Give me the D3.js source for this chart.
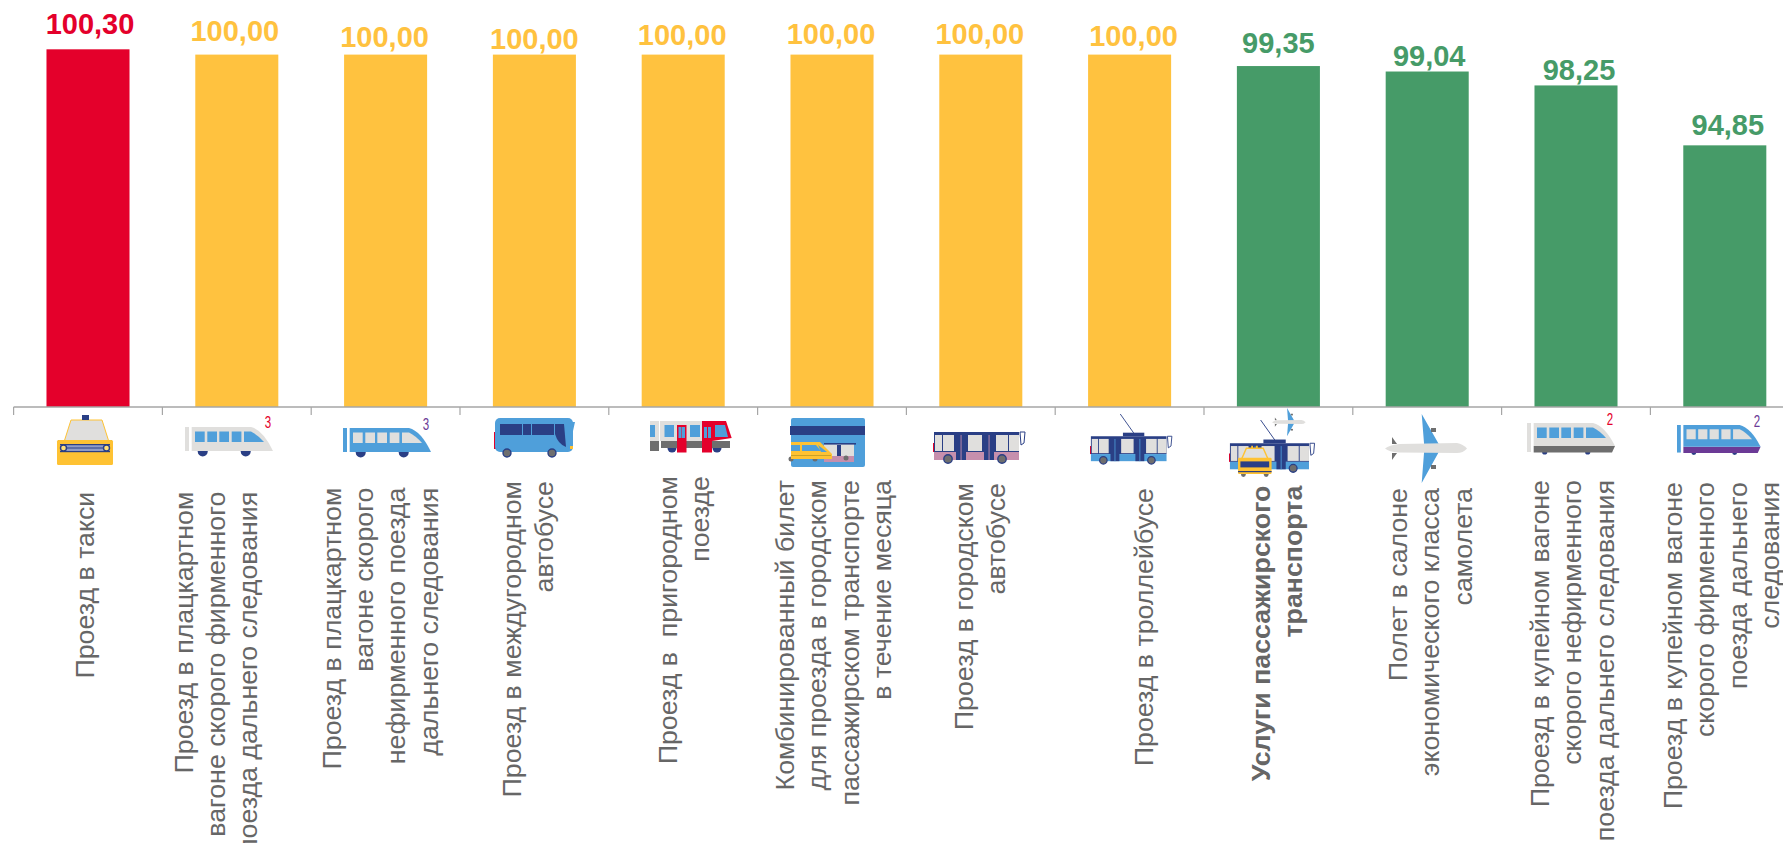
<!DOCTYPE html>
<html><head><meta charset="utf-8">
<script src="https://cdn.jsdelivr.net/npm/d3@7"></script>
<style>html,body{margin:0;padding:0;background:#fff;overflow:hidden}svg{display:block}text{font-family:"Liberation Sans",Arial,sans-serif;white-space:pre}</style>
</head><body><svg id="c" width="1783" height="843"></svg>
<script>
const categories=["Проезд в такси","Проезд в плацкартном вагоне скорого фирменного поезда дальнего следования","Проезд в плацкартном вагоне скорого нефирменного поезда дальнего следования","Проезд в междугородном автобусе","Проезд в пригородном поезде","Комбинированный билет для проезда в городском пассажирском транспорте в течение месяца","Проезд в городском автобусе","Проезд в троллейбусе","Услуги пассажирского транспорта","Полет в салоне экономического класса самолета","Проезд в купейном вагоне скорого нефирменного поезда дальнего следования","Проезд в купейном вагоне скорого фирменного поезда дальнего следования"];
const values=[100.30,100,100,100,100,100,100,100,99.35,99.04,98.25,94.85];
const valueLabels=["100,30","100,00","100,00","100,00","100,00","100,00","100,00","100,00","99,35","99,04","98,25","94,85"];
const labelLines=[["Проезд в такси"],["Проезд в плацкартном","вагоне скорого фирменного","поезда дальнего следования"],["Проезд в плацкартном","вагоне скорого","нефирменного поезда","дальнего следования"],["Проезд в междугородном","автобусе"],["Проезд в  пригородном","поезде"],["Комбинированный билет","для проезда в городском","пассажирском транспорте","в течение месяца"],["Проезд в городском","автобусе"],["Проезд в троллейбусе"],["Услуги пассажирского","транспорта"],["Полет в салоне","экономического класса","самолета"],["Проезд в купейном вагоне","скорого нефирменного","поезда дальнего следования"],["Проезд в купейном вагоне","скорого фирменного","поезда дальнего","следования"]];
const barColors=["#e4002b","#ffc23f","#ffc23f","#ffc23f","#ffc23f","#ffc23f","#ffc23f","#ffc23f","#469b68","#469b68","#469b68","#469b68"];
// layout tables, kept apart from the data
const valueDx=[2,-2,-1,0,-1,-1,-1,4,0,2,3,3];
const valueBase=[33.5,40.5,47,49,44.5,43.5,43.5,45.5,53,66,79.5,134.5];
const lineX0=[94,192.7,340.6,521,677,794,973,1153,1270,1407,1549,1682];
const lineTop=[491.7,491.7,487.7,481,476,480,483,488,485.7,488,480,482];
const lineStep=32.3;

const W=1783,H=843;
const x=d3.scaleBand().domain(d3.range(categories.length)).range([13.6,13.6+148.8*12]).paddingInner(0.442).paddingOuter(0.221);
const y=d3.scaleLinear().domain([80,100]).range([407,54.6]);
const svg=d3.select("#c");
svg.selectAll("rect.bar").data(values).join("rect").attr("class","bar")
  .attr("x",(d,i)=>x(i)).attr("width",x.bandwidth()).attr("y",d=>y(d)).attr("height",d=>y(80)-y(d)).attr("fill",(d,i)=>barColors[i]);
const axisG=svg.append("g").attr("transform",`translate(0,${y(80)})`);
axisG.append("line").attr("x1",13.6).attr("x2",W).attr("stroke","#a6a6a6").attr("stroke-width",1.4);
const tickX=i=>x(i)-x.step()*x.paddingOuter();
axisG.selectAll("line.t").data(d3.range(categories.length)).join("line").attr("class","t")
  .attr("x1",tickX).attr("x2",tickX).attr("y1",0).attr("y2",8).attr("stroke","#a6a6a6").attr("stroke-width",1.2);

svg.selectAll("text.v").data(valueLabels).join("text").attr("class","v")
  .attr("x",(d,i)=>x(i)+x.bandwidth()/2+valueDx[i]).attr("y",(d,i)=>valueBase[i])
  .attr("text-anchor","middle").attr("font-size",29).attr("font-weight","bold").attr("fill",(d,i)=>barColors[i]).text(d=>d);

labelLines.forEach((lines,i)=>{
  lines.forEach((t,j)=>{
    svg.append("text").attr("transform",`translate(${lineX0[i]+j*lineStep},${lineTop[i]}) rotate(-90) scale(1.05,1)`)
      .attr("text-anchor","end").attr("font-size",25.5).attr("fill","#666666").attr("font-weight",i===8?"bold":"normal").text(t);
  });
});

// Pictograms
const B="#4f9fda",N="#2a3f85",G="#e0dfdd",Y="#fec233",R="#e4002b",D="#6e6e6e",M="#c68fad",P="#6b3a96";
function icon(px,py,s=1){const g=svg.append("g").attr("transform",`translate(${px},${py}) scale(${s})`);
  const o={r(a,b,w,h,f,rx=0){g.append("rect").attr("x",a).attr("y",b).attr("width",w).attr("height",h).attr("fill",f).attr("rx",rx);return o},
  p(d,f,st,sw=1){g.append("path").attr("d",d).attr("fill",f).attr("stroke",st||"none").attr("stroke-width",sw);return o},
  c(a,b,r,f,st){g.append("circle").attr("cx",a).attr("cy",b).attr("r",r).attr("fill",f).attr("stroke",st||"none").attr("stroke-width",1.4);return o},
  l(a,b,c,e,st){g.append("line").attr("x1",a).attr("y1",b).attr("x2",c).attr("y2",e).attr("stroke",st).attr("stroke-width",1);return o}};return o}
function taxi(o){o.r(1,25,2.5,8,N).r(52.5,25,2.5,8,N);
 o.p("M7,27 L14,5 L45,5 L52,27Z",G,Y);
 o.r(25,0,7,5,N).r(0,25,56,25,Y,1.5);
 o.r(3,29,50,8,"#8f9cc6",4);o.r(3,29,50,1.2,N).r(3,36,50,1.2,N).r(7,32.5,42,1,N);
 o.c(6.5,33,3,"#ffe07a",N).c(49.5,33,3,"#ffe07a",N);
}
function taxiBack(o){o.c(9,46,4,D).c(47,46,4,D);
 o.p("M6,20 L14,2 L42,2 L50,20Z",G,Y,2.4);
 o.r(22,-2,3,4,Y).r(30,-2,3,4,Y);
 o.r(0,18,56,27,Y,2).r(4,24,48,10,N).r(0,40,56,2,N);
}
function train(o,body,win,rear,base){
 const h=base?23:24;
 o.r(0,0,4,base?29:24,rear);
 if(base){o.c(17.7,29,2.6,N).c(60.7,29,2.6,N);o.p("M6.7,23 L88,23 L85,29.5 L6.7,29.5Z",base);}
 else{o.c(17.7,24.5,5,N).c(60.7,24.5,5,N);}
 o.p(`M6.7,0 L66,0 Q78,3 88,${h} L6.7,${h}Z`,body);
 [10,22.3,34.3,46.7].forEach(a=>o.r(a,4.5,9.7,10.5,win));
 o.p("M59,4.5 L66,4.5 Q73,8 79,15 L59,15Z",win);
}
function bus(o){o.r(0,14,2,17,R);o.r(1,0,78,34,B,5);
 o.r(6,6,22,11,N).r(29,6,8,11,N).r(38,6,22,11,N);
 o.p("M61,6 L70,6 L72,29 Q64,26 61,16Z",N);o.p("M72,4 L81,4 L79,13 L78,6Z",B);o.r(76,28,3,3,Y);
 o.c(13,35,4,D,N).c(58,35,4,D,N);}
function suburban(o){o.r(0,0,9,20,G).r(0,20,9,10,D).r(0,4,5,12,B);
 o.c(22,27,4.5,N).c(67,27,4.5,N);
 o.r(10,0,42,20,G).r(11,20,41,7,D);
 o.r(14.5,4,9.5,12,B).r(40,4,10,12,B);
 o.r(27,4,9.5,27.5,R).r(28.5,6,3,11,B).r(32,6,3,11,B);
 o.p("M52,0 L76,0 L81.7,17 L62,20 L62,31.5 L52,31.5Z",R);
 o.r(62,20,18,7,D).r(54,6,3,11,B).r(58,6,3,11,B);o.p("M65,4 L75,4 L78,16 L65,16Z",B);}
function card(o){o.r(0,0,74,49,B,2).r(-1,8,75,9,N);
 o.r(33,26,30,16,G).r(33,25,32,1.6,N).r(46,27,4,15,N);o.r(33,38,30,6,M);o.c(55,40,2.5,D);
 o.c(24,41,2.5,D).c(0,41,2.5,D);
 o.p("M0,24 L29,24 L41,36 L41,41 L0,41Z",Y);o.p("M0,27 L9,27 L9,33 L0,33Z",B);o.p("M11,27 L25,27 L30,33 L11,33Z",B);o.p("M27,27 L36,34 L30,34Z",B);o.r(0,37,40,1,"#c9a227");}
function citybus(o,low,pole){
 const t=pole?24:0;
 if(pole){o.l(34,0,51,t,N);o.r(37,t-3,24,4,N);}
 o.r(0,t+12,1.5,9,R);
 o.r(1,t+1,85,20,N);o.r(1,t+21,85,8,low);
 [[2,7],[10,11],[35,14],[63,12],[76,10]].forEach(a=>o.r(a[0],t+4,a[1],16,G));
 [23,51].forEach(a=>o.r(a,t+4,10,25,N).r(a+4.6,t+4,.9,25,low));
 o.p(`M87,${t+1} L92,${t+1} L91,${t+12} L88,${t+14}Z`,"#fff",N);
 o.c(15,t+28,4.2,D,N).c(69,t+28,4.2,D,N);}
function plane(o,bodyc,wingc){
 o.p("M36.7,0 L56,34 L36.7,69 L39,39 L39,29Z",wingc);
 o.p("M7,23 L12,30 L7,30Z",D);o.p("M7,46 L12,39 L7,39Z",D);
 o.r(46,14,5,4,D).r(46,51,5,4,D);
 o.p("M0,34.5 Q4,31 14,30 L72,29 Q78,30 82,34.5 Q78,39 72,39 L14,38.5 Q4,38 0,34.5Z",bodyc);
}
function sup(px,py,t,f){svg.append("text").attr("transform",`translate(${px},${py}) scale(0.72,1)`).attr("text-anchor","middle").attr("font-size",16).attr("fill",f).text(t);}

taxi(icon(57,415));
train(icon(185,427),G,B,G);sup(268,428,"3",R);
train(icon(343,428),B,G,B);sup(426,430,"3",P);
bus(icon(494,418));
suburban(icon(650,421));
card(icon(791,418));
citybus(icon(933,431),M,false);
citybus(icon(1090,414,0.89),B,true);
// combined pictogram
plane(icon(1272,408,0.41),G,B);
citybus(icon(1229,420,0.93),B,true);
taxiBack(icon(1238,447,0.6));
plane(icon(1385,414),G,B);
train(icon(1527,423),G,B,G,D);sup(1610,425,"2",R);
train(icon(1677,425,0.95),B,G,B,P);sup(1757,427,"2",P);
</script></body></html>
